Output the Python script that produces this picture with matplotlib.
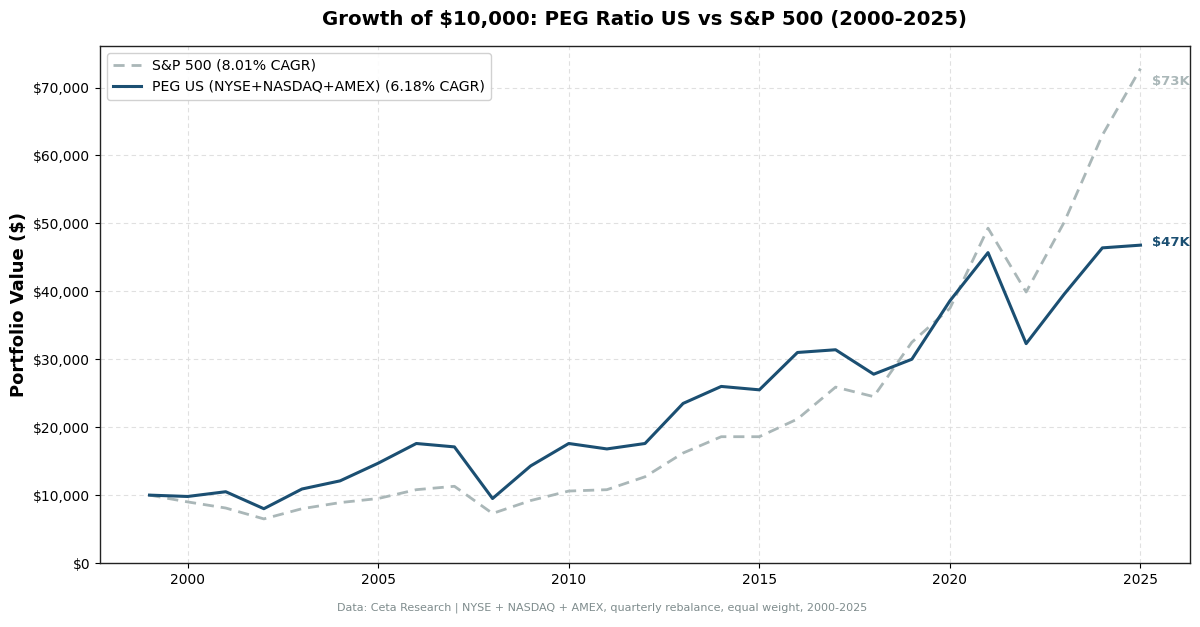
import matplotlib
matplotlib.use("Agg")
import matplotlib.pyplot as plt
from matplotlib.ticker import FuncFormatter

years = list(range(1999, 2026))
peg_values = [10000, 9800, 10500, 8000, 10900, 12100, 14700, 17600, 17100, 9500,
              14300, 17600, 16800, 17600, 23500, 26000, 25500, 31000, 31400, 27800,
              30000, 38600, 45700, 32300, 39600, 46400, 46800]
sp_values = [10000, 9000, 8100, 6500, 8000, 8900, 9500, 10800, 11300, 7300,
             9200, 10600, 10800, 12700, 16200, 18600, 18600, 21200, 25900, 24500,
             32500, 37500, 49300, 39900, 50200, 63000, 72800]
sp_label = "S&P 500 (8.01% CAGR)"
peg_label = "PEG US (NYSE+NASDAQ+AMEX) (6.18% CAGR)"

peg_color = "#1b4f72"
sp_color = "#aab7b8"

fig = plt.figure(figsize=(12, 6.27), dpi=100)
ax = fig.add_axes([0.0833, 0.102, 0.9084, 0.8246])

ax.plot(years, sp_values, color=sp_color, lw=2, ls=(0, (4, 2.5)), label=sp_label)
ax.plot(years, peg_values, color=peg_color, lw=2.2, label=peg_label)

ax.set_ylim(bottom=0)
ax.yaxis.set_major_formatter(FuncFormatter(lambda v, p: f"${v:,.0f}"))
ax.grid(True, ls=(0, (4, 3)), color="#dddddd", lw=0.8, alpha=0.9)
ax.set_axisbelow(True)
for s in ax.spines.values():
    s.set_color("#222222")
    s.set_linewidth(1.0)
ax.tick_params(labelsize=10)

ax.set_ylabel("Portfolio Value ($)", fontsize=13, fontweight="bold")
ax.set_title("Growth of $10,000: PEG Ratio US vs S&P 500 (2000-2025)",
             fontsize=14.2, fontweight="bold", pad=15)

ax.annotate(f"${sp_values[-1]/1000:.0f}K", (years[-1], sp_values[-1]),
            xytext=(8, -9), textcoords="offset points", va="center", ha="left",
            fontsize=9.5, fontweight="bold", color=sp_color)
ax.annotate(f"${peg_values[-1]/1000:.0f}K", (years[-1], peg_values[-1]),
            xytext=(8, 2), textcoords="offset points", va="center", ha="left",
            fontsize=9.5, fontweight="bold", color=peg_color)

ax.legend(loc="upper left", fontsize=10.2, frameon=True, framealpha=0.9,
          edgecolor="#cccccc", borderaxespad=0.5)

fig.text(0.502, 0.026, "Data: Ceta Research | NYSE + NASDAQ + AMEX, quarterly rebalance, equal weight, 2000-2025",
         ha="center", fontsize=8, color="#7f8c8d")

fig.savefig("out.png", dpi=100)
